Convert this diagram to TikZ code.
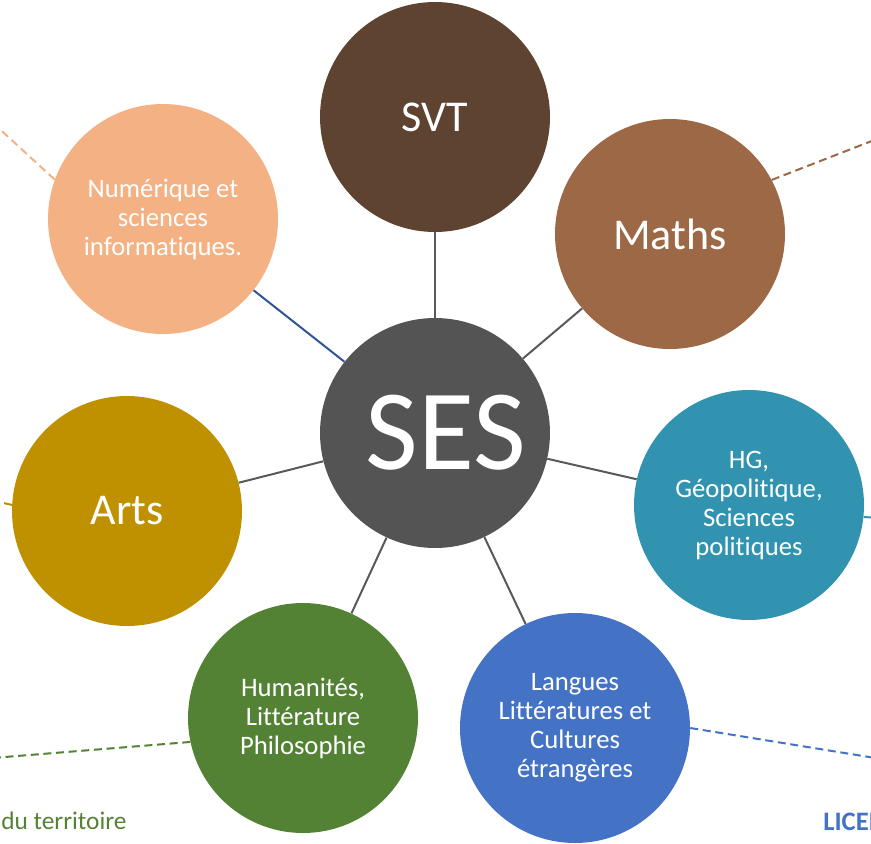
\documentclass[tikz,border=0pt]{standalone}
\usepackage{fontspec}
\setmainfont[Ligatures={NoCommon}]{Carlito}
\usepackage{tikz}
\definecolor{sesgray}{HTML}{545454}
\definecolor{svtbrown}{HTML}{5E4331}
\definecolor{mathsbrown}{HTML}{9D6845}
\definecolor{numorange}{HTML}{F4B183}
\definecolor{artsgold}{HTML}{BF9000}
\definecolor{hgteal}{HTML}{3193B0}
\definecolor{langblue}{HTML}{4472C4}
\definecolor{humgreen}{HTML}{548235}
\definecolor{linkgray}{HTML}{595959}
\definecolor{linkblue}{HTML}{2F5597}

\begin{document}
\begin{tikzpicture}[x=0.75pt,y=-0.75pt,
    bubble/.style={circle,minimum size=172.5pt,inner sep=0pt,text=white,align=center,
        font=\fontsize{20}{21.75}\selectfont},
    bigtext/.style={font=\fontsize{33}{40}\selectfont},
    link/.style={draw=linkgray,line width=1.5pt},
    trail/.style={line width=1.5pt,dash pattern=on 6pt off 3.5pt}]
    \useasboundingbox (0,0) rectangle (871,843);
    \clip (0,0) rectangle (871,843);

    % Centre bubble
    \node[bubble,fill=sesgray,font=\fontsize{86}{94}\selectfont] (ses) at (435,433) {\hspace{16pt}SES};

    % Subject bubbles
    \node[bubble,bigtext,fill=svtbrown] (svt) at (435,117) {SVT};
    \node[bubble,bigtext,fill=mathsbrown] (maths) at (670,234) {Maths};
    \node[bubble,fill=hgteal] (hg) at (749,505) {HG,\\G\'eopolitique,\\Sciences\\politiques};
    \node[bubble,fill=langblue] (lang) at (575,728) {Langues\\Litt\'eratures et\\Cultures\\\'etrang\`eres};
    \node[bubble,fill=humgreen] (hum) at (303,718) {Humanit\'es,\\Litt\'erature\\Philosophie};
    \node[bubble,bigtext,fill=artsgold] (arts) at (127,511) {Arts};
    \node[bubble,fill=numorange] (num) at (163,219) {Num\'erique et\\sciences\\informatiques.};

    % Draw links to the centre
    \draw[link] (ses) -- (svt);
    \draw[link] (ses) -- (maths);
    \draw[link] (ses) -- (hg);
    \draw[link] (ses) -- (lang);
    \draw[link] (ses) -- (hum);
    \draw[link] (ses) -- (arts);
    \draw[link,draw=linkblue] (ses) -- (num);

    % Dashed lines running off the page
    \coordinate (numout) at (-20,111);
    \coordinate (mathsout) at (900,130);
    \coordinate (artsout) at (-30,495);
    \coordinate (hgout) at (900,519);
    \coordinate (humout) at (-20,759);
    \coordinate (langout) at (900,762);
    \draw[trail,numorange] (num.160) -- (numout);
    \draw[trail,mathsbrown] (maths.28) -- (mathsout);
    \draw[trail,artsgold] (arts.177) -- (artsout);
    \draw[trail,hgteal] (hg.-6) -- (hgout);
    \draw[trail,humgreen] (hum.192) -- (humout);
    \draw[trail,langblue] (lang.0) -- (langout);

    % Cut-off labels at the bottom
    \node[anchor=base west,inner sep=0pt,text=humgreen,font=\fontsize{19}{22}\selectfont] (terr) at (1,829) {du territoire};
    \node[anchor=base west,inner sep=0pt,text=langblue,font=\bfseries\fontsize{20}{24}\selectfont] (lic) at (823,830) {LICEN};
\end{tikzpicture}
\end{document}
